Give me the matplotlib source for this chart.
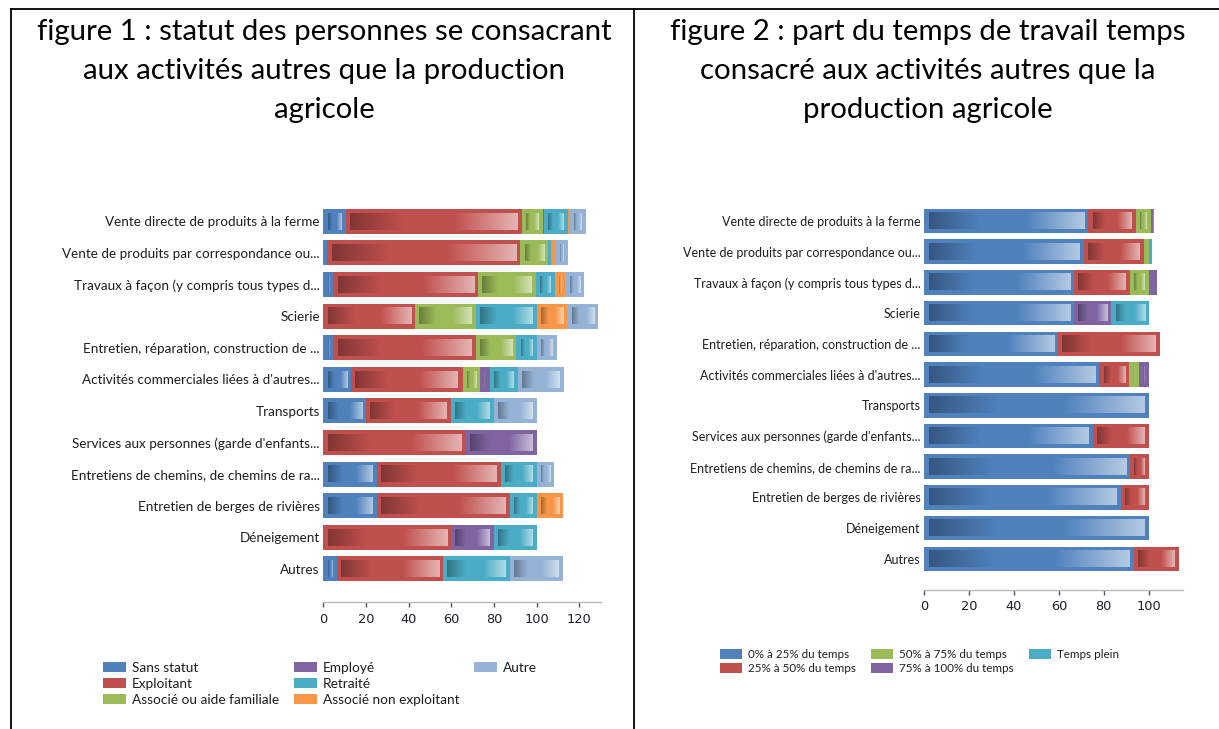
import numpy as np
import matplotlib
matplotlib.use("Agg")
import matplotlib.pyplot as plt
from matplotlib.lines import Line2D
from matplotlib.patches import Rectangle

# ---------------- data ----------------
categories = [
    "Vente directe de produits à la ferme",
    "Vente de produits par correspondance ou...",
    "Travaux à façon (y compris tous types d...",
    "Scierie",
    "Entretien, réparation, construction de ...",
    "Activités commerciales liées à d'autres...",
    "Transports",
    "Services aux personnes (garde d'enfants...",
    "Entretiens de chemins, de chemins de ra...",
    "Entretien de berges de rivières",
    "Déneigement",
    "Autres",
]

# figure 1 : statut
status_names = ["Sans statut", "Exploitant", "Associé ou aide familiale",
                "Employé", "Retraité", "Associé non exploitant", "Autre"]
sans_statut = [10.5, 1.9, 4.7, 0, 4.76, 13.1, 20, 0, 25, 25, 0, 6.25]
exploitant = [82.5, 90.5, 67.8, 42.9, 66.67, 52.2, 40, 66.7, 58.3, 62.5, 60, 50]
associe = [10, 12.9, 27.2, 28.6, 19.05, 8.3, 0, 0, 0, 0, 0, 0]
employe = [0.5, 0, 0, 0, 0, 4.4, 0, 33.3, 0, 0, 20, 0]
retraite = [11.2, 1.6, 8.9, 28.6, 9.52, 13.3, 20, 0, 16.7, 12.5, 20, 31.25]
associe_non = [0.8, 2.1, 4.9, 14.3, 0, 0, 0, 0, 0, 12.5, 0, 0]
autre = [7.5, 5.6, 8.9, 14.3, 9.52, 21.7, 20, 0, 8.3, 0, 0, 25]
status_values = [sans_statut, exploitant, associe, employe, retraite, associe_non, autre]
status_colors = ["#4F81BD", "#C0504D", "#9BBB59", "#8064A2", "#4BACC6", "#F79646", "#95B3D7"]
ticks1 = [0, 20, 40, 60, 80, 100, 120]

# figure 2 : part du temps
time_names = ["0% à 25% du temps", "25% à 50% du temps", "50% à 75% du temps",
              "75% à 100% du temps", "Temps plein"]
p0_25 = [73.1, 71, 66.7, 66.7, 59.6, 78, 100, 75, 91.7, 87.5, 100, 93.3]
p25_50 = [21.1, 26.9, 25, 0, 45.3, 13.2, 0, 25, 8.3, 12.5, 0, 20]
p50_75 = [6.7, 2.1, 8.3, 0, 0, 4.5, 0, 0, 0, 0, 0, 0]
p75_100 = [0.9, 0, 3.9, 16.7, 0, 4.3, 0, 0, 0, 0, 0, 0]
temps_plein = [0.7, 1.5, 0, 16.7, 0, 0, 0, 0, 0, 0, 0, 0]
time_values = [p0_25, p25_50, p50_75, p75_100, temps_plein]
time_colors = ["#4F81BD", "#C0504D", "#9BBB59", "#8064A2", "#4BACC6"]
ticks2 = [0, 20, 40, 60, 80, 100]

title1 = ["figure 1 : statut des personnes se consacrant",
          "aux activités autres que la production",
          "agricole"]
title2 = ["figure 2 : part du temps de travail temps",
          "consacré aux activités autres que la",
          "production agricole"]

# ---------------- layout ----------------
W, H = 1219, 729
fig = plt.figure(figsize=(W / 100, H / 100), dpi=100)
FONT = "Lato"
TXT = "#1e1e1e"


def fx(px):
    return px / W


def fy(py):
    return 1 - py / H


ax1 = fig.add_axes([fx(323.3), fy(602.3), (600.6 - 323.3) / W, (602.3 - 199.2) / H])
ax2 = fig.add_axes([fx(924.3), fy(589.5), (1183 - 924.3) / W, (589.5 - 199.5) / H])

t = np.linspace(0, 1, 256)
a_dark = np.clip(1 - t / 0.32, 0, 1) * 0.33
a_light = np.clip((t - 0.62) / 0.38, 0, 1) * 0.58
grad = np.zeros((1, 256, 4))
grad[0, :, :3] = np.where(t < 0.5, 0.0, 1.0)[:, None]
grad[0, :, 3] = a_dark + a_light


def draw(ax, names, values, colors, xmax, ybottom, height, ticks, lsize):
    n = len(categories)
    y = np.arange(n)
    ax.set_xlim(0, xmax)
    ax.set_ylim(ybottom, -0.7)
    left = np.zeros(n)
    containers = []
    for name, vals, col in zip(names, values, colors):
        vals = np.array(vals, dtype=float)
        c = ax.barh(y, vals, left=left, height=height, color=col, label=name,
                    linewidth=0, zorder=2)
        containers.append(c)
        left = left + vals
    # gradient highlights inside each segment
    p0 = ax.transData.transform((0, 0))
    p1 = ax.transData.transform((1, 1))
    ux = 1.0 / abs(p1[0] - p0[0])  # data units per pixel
    uy = 1.0 / abs(p1[1] - p0[1])
    ix, iy = 4.2 * ux, 4.2 * uy
    for c in containers:
        for r in c.patches:
            x0, w = r.get_x(), r.get_width()
            yc = r.get_y() + r.get_height() / 2
            if w / ux < 9:
                continue
            ax.imshow(grad, extent=[x0 + ix, x0 + w - ix, yc + height / 2 - iy, yc - height / 2 + iy],
                      aspect="auto", interpolation="bilinear", zorder=3)
    ax.set_xlim(0, xmax)
    ax.set_ylim(ybottom, -0.7)
    ax.set_yticks(y)
    ax.set_yticklabels(categories, fontsize=lsize, family=FONT, color=TXT)
    ax.tick_params(axis="y", length=0, pad=2.5)
    ax.set_xticks(ticks)
    ax.set_xticklabels([str(v) for v in ticks], fontsize=9.3, family="DejaVu Sans", color="#1b1b2b")
    ax.tick_params(axis="x", direction="out", length=3.5, width=1, color="#555555", pad=4)
    for s in ("top", "right", "left"):
        ax.spines[s].set_visible(False)
    ax.spines["bottom"].set_color("#B8B8B8")
    ax.spines["bottom"].set_linewidth(1)
    return containers


c1 = draw(ax1, status_names, status_values, status_colors, 130, 12.06, 0.79, ticks1, 9.7)
c2 = draw(ax2, time_names, time_values, time_colors, 115.3, 12.0, 0.8, ticks2, 9.0)

# legend 1: 3 + 3 + 1 items per column (two invisible fillers in the last column)
blank = Rectangle((0, 0), 1, 1, visible=False)
h1 = list(c1) + [blank, blank]
l1 = status_names + ["", ""]
fig.legend(h1, l1, loc="upper left", ncol=3, frameon=False, borderpad=0, borderaxespad=0,
           handlelength=1.7, handleheight=0.74, handletextpad=0.42, columnspacing=1.1,
           labelspacing=0.3, prop={"family": FONT, "size": 9.8}, labelcolor=TXT,
           bbox_to_anchor=(fx(103), fy(661.5)))
fig.legend(c2, time_names, loc="upper left", ncol=3, frameon=False, borderpad=0, borderaxespad=0,
           handlelength=1.9, handleheight=0.85, handletextpad=0.5, columnspacing=1.3,
           labelspacing=0.25, prop={"family": FONT, "size": 8.4}, labelcolor=TXT,
           bbox_to_anchor=(fx(720), fy(649)))

# titles
for i, line in enumerate(title1):
    fig.text(fx(324), fy(32 + 39 * i), line, ha="center", va="center",
             fontsize=21.2, family=FONT, color="black")
for i, line in enumerate(title2):
    fig.text(fx(928), fy(32 + 39 * i), line, ha="center", va="center",
             fontsize=21.2, family=FONT, color="black")

# table borders
fig.add_artist(Line2D([fx(11), 1], [fy(9), fy(9)], color="black", lw=1.3))
fig.add_artist(Line2D([fx(11), fx(11)], [fy(9), 0], color="black", lw=1.3))
fig.add_artist(Line2D([fx(634), fx(634)], [fy(9), 0], color="black", lw=1.3))

fig.savefig("out.png", dpi=100)
